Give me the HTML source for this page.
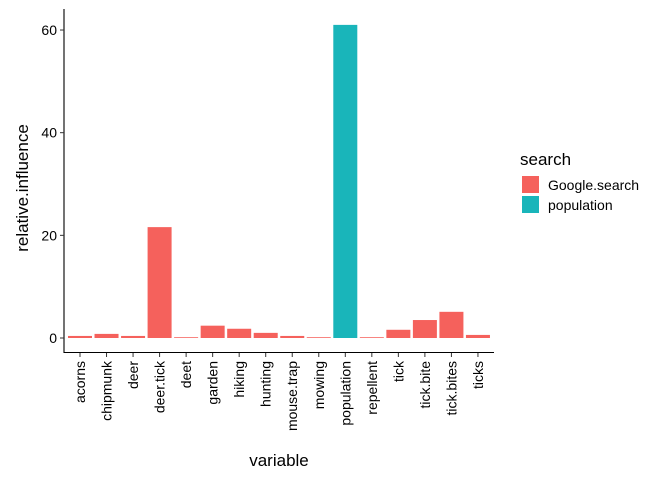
<!DOCTYPE html>
<html><head><meta charset="utf-8"><style>
body{margin:0;background:#fff;font-family:"Liberation Sans",sans-serif}
</style></head><body>
<svg id="chart" width="672" height="480" xmlns="http://www.w3.org/2000/svg" font-family="Liberation Sans, sans-serif">
<g id="bars"></g>
<g id="axes"></g>
<text x="279" y="466" font-size="17" text-anchor="middle" fill="#000">variable</text>
<text transform="translate(28,188) rotate(-90)" font-size="17" text-anchor="middle" fill="#000">relative.influence</text>
<g>
<text x="520" y="165" font-size="17" fill="#000">search</text>
<g><rect x="522" y="176" width="17" height="17" fill="#F5615C"/><text x="548" y="190" font-size="14" fill="#000">Google.search</text></g>
<g><rect x="522" y="196" width="17" height="17" fill="#19B5BA"/><text x="548" y="210" font-size="14" fill="#000">population</text></g>
</g>
</svg>
<script>
const categories=["acorns","chipmunk","deer","deer.tick","deet","garden","hiking","hunting","mouse.trap","mowing","population","repellent","tick","tick.bite","tick.bites","ticks"];
const values=[0.4,0.8,0.4,21.6,0.15,2.4,1.8,1.0,0.4,0.15,61,0.15,1.6,3.5,5.1,0.6];
const groups=["Google.search","Google.search","Google.search","Google.search","Google.search","Google.search","Google.search","Google.search","Google.search","Google.search","population","Google.search","Google.search","Google.search","Google.search","Google.search"];
const yTicks=[0,20,40,60];
const colors={"Google.search":"#F5615C","population":"#19B5BA"};
const NS="http://www.w3.org/2000/svg";
const y=v=>338-v*5.133;
const x=i=>80+i*26.53;
const bw=24;
const bars=document.getElementById('bars'),axes=document.getElementById('axes');
function mk(t,a,p){const e=document.createElementNS(NS,t);for(const k in a)e.setAttribute(k,a[k]);p.appendChild(e);return e;}
values.forEach((v,i)=>{
 const r=mk('rect',{x:x(i)-bw/2,y:y(v),width:bw,height:y(0)-y(v),fill:colors[groups[i]]},bars);
 
 
});
mk('line',{x1:64,y1:9,x2:64,y2:353,stroke:'#000','stroke-width':1.1},axes);
mk('line',{x1:63.5,y1:352.5,x2:494,y2:352.5,stroke:'#000','stroke-width':1.1},axes);
yTicks.forEach(t=>{
 mk('line',{x1:60,y1:y(t),x2:64,y2:y(t),stroke:'#333'},axes);
 const tx=mk('text',{x:57,y:y(t)+5,'font-size':14,'text-anchor':'end',fill:'#000'},axes);tx.textContent=t;
 
 
});
categories.forEach((c,i)=>{
 mk('line',{x1:x(i),y1:353,x2:x(i),y2:357,stroke:'#333'},axes);
 const tx=mk('text',{transform:`translate(${x(i)+5},361) rotate(-90)`,'font-size':14,'text-anchor':'end',fill:'#000'},axes);tx.textContent=c;
 
 
});
</script>
</body></html>
